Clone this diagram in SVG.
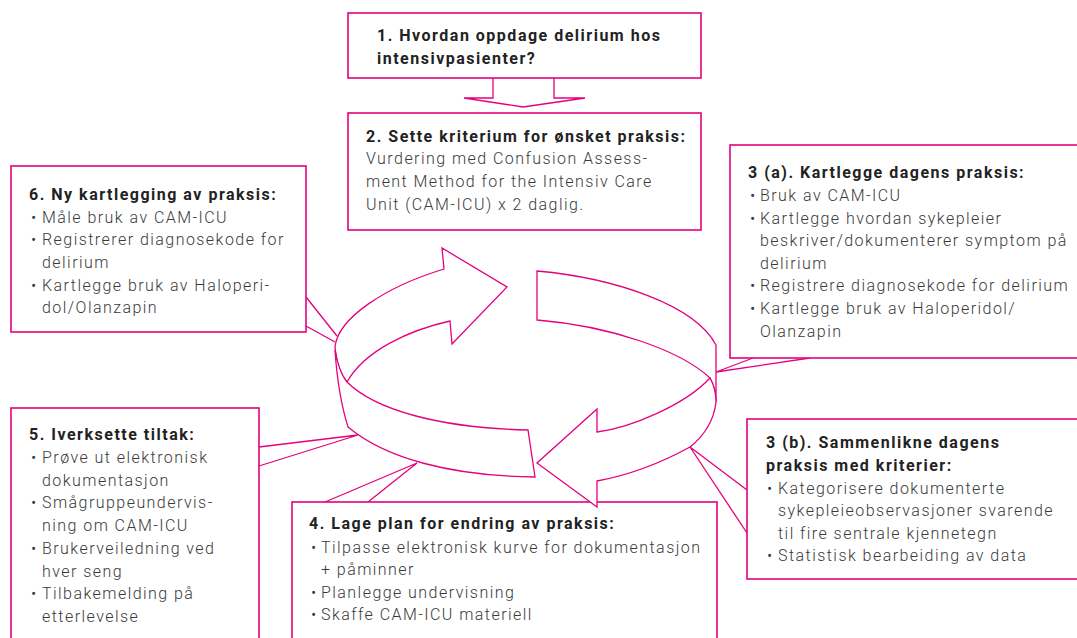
<svg xmlns="http://www.w3.org/2000/svg" width="1077" height="638" viewBox="0 0 1077 638">
<style>
.box{fill:#fff;stroke:#e5007d;stroke-width:1.6}
.ln{fill:none;stroke:#e5007d;stroke-width:1.3}
.cy{fill:#fff;stroke:#e5007d;stroke-width:1.3;stroke-linejoin:miter}
text{font-family:Roboto,"Liberation Sans",sans-serif;font-size:16px;letter-spacing:1.45px}
.h{font-weight:700;fill:#222;letter-spacing:1.5px}
.b{font-weight:300;fill:#3a3a3a}
</style>
<rect width="1077" height="638" fill="#fff"/>
<g id="connectors">
<path class="ln" d="M306,297 L337,336 M306,326 L335,342"/>
<path class="ln" d="M259,447 L358,435 M259,466 L358,435"/>
<path class="ln" d="M325,502 L417,463 M368,502 L417,463"/>
<path class="ln" d="M753,358 L716,372 M810,358 L716,372"/>
<path class="ln" d="M747,490 L690,447 M747,533 L690,447"/>
<path class="cy" d="M493,78 L493,98 L464,98 L523,107 L585,98 L554,98 L554,78"/>
</g>
<g id="node1">
<rect class="box" x="348" y="13" width="353" height="65"/>
<text class="h" x="377" y="41">1. Hvordan oppdage delirium hos</text>
<text class="h" x="377" y="63.5">intensivpasienter?</text>
</g>
<g id="node2">
<rect class="box" x="348" y="113" width="353" height="117"/>
<text class="h" x="366" y="141.5">2. Sette kriterium for ønsket praksis:</text>
<text class="b" x="366" y="164.2">Vurdering med Confusion Assess-</text>
<text class="b" x="366" y="186.9">ment Method for the Intensiv Care</text>
<text class="b" x="366" y="209.6">Unit (CAM-ICU) x 2 daglig.</text>
</g>
<g id="node3a">
<rect class="box" x="730" y="145" width="360" height="213"/>
<text class="h" x="748" y="178.3">3 (a). Kartlegge dagens praksis:</text>
<text class="b" x="750" y="201">•</text><text class="b" x="760" y="201">Bruk av CAM-ICU</text>
<text class="b" x="750" y="223.6">•</text><text class="b" x="760" y="223.6">Kartlegge hvordan sykepleier</text>
<text class="b" x="760" y="246.2">beskriver/dokumenterer symptom på</text>
<text class="b" x="760" y="268.8">delirium</text>
<text class="b" x="750" y="291.4">•</text><text class="b" x="760" y="291.4">Registrere diagnosekode for delirium</text>
<text class="b" x="750" y="314">•</text><text class="b" x="760" y="314">Kartlegge bruk av Haloperidol/</text>
<text class="b" x="760" y="336.6">Olanzapin</text>
</g>
<g id="node3b">
<rect class="box" x="747" y="419" width="340" height="160"/>
<text class="h" x="766" y="448.3">3 (b). Sammenlikne dagens</text>
<text class="h" x="766" y="471">praksis med kriterier:</text>
<text class="b" x="767" y="493.6">•</text><text class="b" x="778" y="493.6">Kategorisere dokumenterte</text>
<text class="b" x="778" y="516.2">sykepleieobservasjoner svarende</text>
<text class="b" x="778" y="538.8">til fire sentrale kjennetegn</text>
<text class="b" x="767" y="561.4">•</text><text class="b" x="778" y="561.4">Statistisk bearbeiding av data</text>
</g>
<g id="node4">
<rect class="box" x="292" y="502" width="425" height="150"/>
<text class="h" x="309" y="529.3">4. Lage plan for endring av praksis:</text>
<text class="b" x="311" y="552.5">•</text><text class="b" x="321" y="552.5">Tilpasse elektronisk kurve for dokumentasjon</text>
<text class="b" x="321" y="575">+ påminner</text>
<text class="b" x="311" y="597.6">•</text><text class="b" x="321" y="597.6">Planlegge undervisning</text>
<text class="b" x="311" y="620.2">•</text><text class="b" x="321" y="620.2">Skaffe CAM-ICU materiell</text>
</g>
<g id="node5">
<rect class="box" x="11" y="408" width="248" height="240"/>
<text class="h" x="29" y="440">5. Iverksette tiltak:</text>
<text class="b" x="31" y="463">•</text><text class="b" x="42" y="463">Prøve ut elektronisk</text>
<text class="b" x="42" y="485.7">dokumentasjon</text>
<text class="b" x="31" y="508.4">•</text><text class="b" x="42" y="508.4">Smågruppeundervis-</text>
<text class="b" x="42" y="531.1">ning om CAM-ICU</text>
<text class="b" x="31" y="553.8">•</text><text class="b" x="42" y="553.8">Brukerveiledning ved</text>
<text class="b" x="42" y="576.5">hver seng</text>
<text class="b" x="31" y="599.2">•</text><text class="b" x="42" y="599.2">Tilbakemelding på</text>
<text class="b" x="42" y="621.9">etterlevelse</text>
</g>
<g id="node6">
<rect class="box" x="11" y="166" width="295" height="166"/>
<text class="h" x="29" y="200">6. Ny kartlegging av praksis:</text>
<text class="b" x="31" y="222.5">•</text><text class="b" x="42" y="222.5">Måle bruk av CAM-ICU</text>
<text class="b" x="31" y="245.2">•</text><text class="b" x="42" y="245.2">Registrerer diagnosekode for</text>
<text class="b" x="42" y="267.9">delirium</text>
<text class="b" x="31" y="290.6">•</text><text class="b" x="42" y="290.6">Kartlegge bruk av Haloperi-</text>
<text class="b" x="42" y="313.3">dol/Olanzapin</text>
</g>
<g id="cycle">
<path class="cy" d="M335,347 C338,318 385,287 444,269 L442,248 L507,287 L452,344 L450,321 C410,330 365,350 347,382 C341,375 336,362 335,347 Z"/>
<path class="cy" d="M537,271 C615,278 695,305 716,345 L716,402 C716,392 714,385 710,378 C680,350 610,326 537,320 Z"/>
<path class="cy" d="M335,350 C338,366 341,375 347,382 C375,410 440,428 528,430 L535,477 C450,476 385,458 348,427 Q338,395 335,350 Z"/>
<path class="cy" d="M716,402 C714,420 705,435 690,447 C670,458 635,474 597,481 L597,507 L537,463 L597,409 L597,432 C630,428 685,405 710,378 C714,385 716,392 716,402 Z"/>
</g>
</svg>
